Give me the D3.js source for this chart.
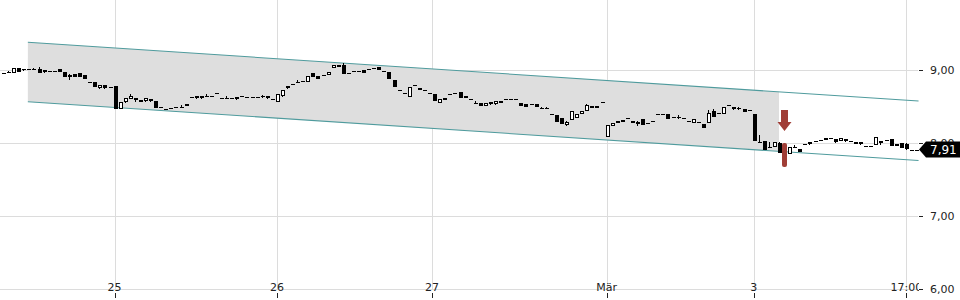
<!DOCTYPE html>
<html>
<head>
<meta charset="utf-8">
<script src="https://cdn.jsdelivr.net/npm/d3@7"></script>
<style>
  body { margin: 0; background: #fff; }
  svg text { font-family: "DejaVu Sans", sans-serif; font-size: 11px; }
</style>
</head>
<body>
<svg id="chart"></svg>
<script>
// candles: [open, high, low, close]
const ohlc = [
  [8.96,8.96,8.96,8.96],[8.97,8.98,8.97,8.97],[8.97,9.03,8.97,9.03],[9.03,9.03,8.99,8.99],[9.01,9.02,9.00,9.01],
  [9.01,9.01,9.01,9.01],[9.01,9.03,9.01,9.01],[9.02,9.04,8.97,8.98],[9.00,9.00,8.97,8.98],[8.99,8.99,8.99,8.99],
  [8.99,8.99,8.99,8.99],[9.01,9.01,8.98,8.98],[8.97,8.97,8.92,8.92],[8.93,8.94,8.87,8.92],[8.95,8.95,8.92,8.92],
  [8.96,8.96,8.92,8.92],[8.93,8.93,8.89,8.89],[8.84,8.84,8.84,8.84],[8.84,8.84,8.78,8.78],[8.76,8.80,8.75,8.79],
  [8.79,8.79,8.76,8.76],[8.77,8.77,8.77,8.77],[8.78,8.78,8.48,8.48],[8.48,8.56,8.48,8.56],[8.57,8.62,8.56,8.61],
  [8.62,8.67,8.61,8.65],[8.61,8.61,8.58,8.59],[8.59,8.59,8.58,8.58],[8.58,8.62,8.58,8.61],[8.60,8.60,8.58,8.58],
  [8.57,8.57,8.49,8.49],[8.49,8.49,8.49,8.49],[8.47,8.47,8.47,8.47],[8.48,8.48,8.48,8.48],[8.49,8.49,8.49,8.49],
  [8.50,8.52,8.50,8.50],[8.54,8.54,8.52,8.52],[8.63,8.63,8.63,8.63],[8.64,8.64,8.62,8.62],[8.64,8.64,8.62,8.62],
  [8.65,8.67,8.65,8.65],[8.65,8.65,8.65,8.65],[8.68,8.68,8.68,8.68],[8.62,8.62,8.62,8.62],[8.62,8.64,8.62,8.62],
  [8.62,8.62,8.62,8.62],[8.63,8.63,8.60,8.61],[8.65,8.65,8.65,8.65],[8.63,8.63,8.63,8.63],[8.63,8.63,8.63,8.63],
  [8.63,8.63,8.63,8.63],[8.64,8.66,8.63,8.64],[8.64,8.64,8.62,8.62],[8.60,8.60,8.60,8.60],[8.57,8.67,8.57,8.67],
  [8.65,8.73,8.64,8.72],[8.76,8.78,8.76,8.78],[8.81,8.81,8.81,8.81],[8.84,8.86,8.84,8.84],[8.85,8.85,8.85,8.85],
  [8.85,8.92,8.85,8.92],[8.96,8.96,8.92,8.92],[8.92,8.92,8.89,8.89],[8.93,8.93,8.93,8.93],[8.94,8.97,8.94,8.97],
  [9.04,9.07,9.04,9.07],[9.07,9.07,9.06,9.06],[9.07,9.10,8.96,8.96],[8.96,8.96,8.96,8.96],[8.99,8.99,8.99,8.99],
  [8.99,8.99,8.99,8.99],[9.00,9.00,8.97,8.97],[9.01,9.01,9.01,9.01],[9.03,9.03,9.03,9.03],[9.04,9.04,9.01,9.01],
  [8.99,8.99,8.99,8.99],[8.97,8.97,8.89,8.89],[8.86,8.86,8.78,8.78],[8.73,8.73,8.73,8.73],[8.69,8.69,8.69,8.69],
  [8.64,8.77,8.64,8.77],[8.79,8.79,8.79,8.79],[8.76,8.76,8.74,8.74],[8.73,8.73,8.73,8.73],[8.69,8.69,8.69,8.69],
  [8.67,8.67,8.59,8.59],[8.56,8.60,8.56,8.60],[8.62,8.62,8.60,8.60],[8.67,8.67,8.67,8.67],[8.69,8.69,8.69,8.69],
  [8.70,8.70,8.63,8.63],[8.65,8.65,8.63,8.63],[8.60,8.60,8.60,8.60],[8.55,8.57,8.55,8.55],[8.55,8.55,8.52,8.52],
  [8.52,8.55,8.52,8.55],[8.54,8.56,8.54,8.56],[8.54,8.57,8.54,8.57],[8.57,8.57,8.56,8.56],[8.60,8.60,8.60,8.60],
  [8.60,8.60,8.60,8.60],[8.60,8.60,8.60,8.60],[8.55,8.55,8.52,8.52],[8.54,8.54,8.51,8.51],[8.53,8.53,8.53,8.53],
  [8.54,8.54,8.51,8.51],[8.48,8.50,8.48,8.48],[8.48,8.50,8.48,8.48],[8.40,8.40,8.40,8.40],[8.38,8.38,8.30,8.30],
  [8.34,8.34,8.27,8.27],[8.26,8.30,8.24,8.29],[8.33,8.44,8.33,8.44],[8.36,8.40,8.36,8.40],[8.41,8.44,8.41,8.44],
  [8.45,8.54,8.45,8.52],[8.51,8.51,8.49,8.49],[8.51,8.51,8.49,8.49],[8.56,8.56,8.56,8.56],[8.10,8.25,8.10,8.25],
  [8.25,8.28,8.25,8.28],[8.30,8.30,8.29,8.29],[8.31,8.31,8.30,8.30],[8.34,8.34,8.34,8.34],[8.30,8.30,8.29,8.29],
  [8.27,8.30,8.25,8.29],[8.33,8.33,8.26,8.26],[8.27,8.27,8.27,8.27],[8.30,8.30,8.30,8.30],[8.40,8.40,8.40,8.40],
  [8.40,8.40,8.40,8.40],[8.40,8.40,8.34,8.34],[8.36,8.36,8.36,8.36],[8.36,8.38,8.34,8.36],[8.34,8.34,8.34,8.34],
  [8.30,8.30,8.30,8.30],[8.29,8.33,8.29,8.33],[8.29,8.29,8.29,8.29],[8.26,8.26,8.22,8.22],[8.29,8.45,8.29,8.41],
  [8.44,8.47,8.37,8.37],[8.41,8.41,8.41,8.41],[8.41,8.49,8.41,8.49],[8.52,8.52,8.52,8.52],[8.49,8.49,8.47,8.47],
  [8.48,8.50,8.46,8.48],[8.47,8.47,8.44,8.44],[8.45,8.45,8.45,8.45],[8.40,8.40,8.05,8.05],[8.02,8.11,8.02,8.02],
  [8.03,8.03,7.92,7.92],[7.95,8.01,7.95,7.95],[7.96,8.02,7.96,8.01],[8.00,8.01,7.88,7.88],[7.89,7.89,7.84,7.84],
  [7.86,7.94,7.86,7.94],[7.95,7.97,7.95,7.95],[7.92,7.92,7.89,7.89],[7.99,7.99,7.99,7.99],[7.99,8.01,7.99,8.01],
  [8.03,8.03,8.03,8.03],[8.04,8.04,8.04,8.04],[8.07,8.07,8.05,8.05],[8.07,8.07,8.07,8.07],[8.06,8.06,8.01,8.03],
  [8.04,8.07,8.04,8.07],[8.05,8.05,8.03,8.03],[8.03,8.03,8.03,8.03],[8.02,8.02,8.00,8.00],[8.01,8.01,7.99,7.99],
  [7.96,7.96,7.96,7.96],[7.96,7.96,7.96,7.96],[7.99,8.08,7.99,8.08],[8.03,8.03,7.99,8.02],[8.04,8.04,8.04,8.04],
  [8.05,8.05,7.97,7.97],[7.99,7.99,7.97,7.97],[8.00,8.00,7.94,7.95],[7.99,8.00,7.92,7.93],[7.91,7.91,7.91,7.91],
  [7.91,7.91,7.91,7.91]
];

// x axis ticks (candle index) and labels
const dayTicks = [22, 54, 84.6, 119, 148, 178.1];
const dayLabels = ['25', '26', '27', 'Mär', '3', '17:00'];
const priceTicks = [6, 7, 8, 9];

// trend channel: start/end candle index, upper and lower values
const channelIdx = [4.9, 180.5];
const channelUpper = [9.38, 8.575];
const channelLower = [8.565, 7.76];
const channelFillEnd = 153;

const lastPrice = 7.91;
const signalIdx = 154;
const signalArrowTip = 8.165;
const signalBar = [8.0, 7.67];

(function(){
  let width = 960, height = 300, plotRight = 918;

  let svg = d3.select('#chart').attr('width', width).attr('height', height);

  let x = d3.scaleLinear().domain([0, ohlc.length - 1]).range([3, 916]);
  let y = d3.scaleLinear().domain([6, 9]).range([289, 70]);
  let fmt = v => d3.format('.2f')(v).replace('.', ',');

  // grid
  let grid = svg.append('g').attr('stroke', '#dcdcdc').attr('shape-rendering', 'crispEdges');
  grid.selectAll('line.h').data(priceTicks).enter().append('line')
      .attr('x1', 0).attr('x2', plotRight)
      .attr('y1', d => Math.round(y(d)) + 0.5).attr('y2', d => Math.round(y(d)) + 0.5);
  grid.selectAll('line.v').data(dayTicks).enter().append('line')
      .attr('x1', d => Math.round(x(d)) + 0.5).attr('x2', d => Math.round(x(d)) + 0.5)
      .attr('y1', 0).attr('y2', 289);

  // channel
  let lerp = (arr, i) => arr[0] + (arr[1] - arr[0]) * (i - channelIdx[0]) / (channelIdx[1] - channelIdx[0]);
  let fillPts = [
    [x(channelIdx[0]), y(channelUpper[0])],
    [x(channelFillEnd), y(lerp(channelUpper, channelFillEnd))],
    [x(channelFillEnd), y(lerp(channelLower, channelFillEnd))],
    [x(channelIdx[0]), y(channelLower[0])]
  ];
  svg.append('polygon')
      .attr('points', fillPts.map(p => p.join(',')).join(' '))
      .attr('fill', '#dedede');

  [channelUpper, channelLower].forEach(arr => {
    svg.append('line')
        .attr('x1', x(channelIdx[0])).attr('y1', y(arr[0]))
        .attr('x2', x(channelIdx[1])).attr('y2', y(arr[1]))
        .attr('stroke', '#4f9b9d').attr('stroke-width', 1.1);
  });

  // candles
  let candle = svg.append('g').attr('shape-rendering', 'crispEdges')
    .selectAll('g').data(ohlc).enter().append('g');

  candle.append('line')
      .attr('x1', (d, i) => Math.round(x(i)) + 0.5).attr('x2', (d, i) => Math.round(x(i)) + 0.5)
      .attr('y1', d => Math.round(y(d[1]))).attr('y2', d => Math.round(y(d[2])) + 1)
      .attr('stroke', '#000');

  candle.append('rect')
      .attr('x', (d, i) => Math.round(x(i)) - 1.5)
      .attr('width', 4)
      .attr('y', d => Math.round(y(Math.max(d[0], d[3]))) + (d[0] === d[3] ? 0 : 0.5))
      .attr('height', d => d[0] === d[3] ? 1 : Math.max(1, Math.round(Math.abs(y(d[0]) - y(d[3])))))
      .attr('fill', d => d[3] > d[0] ? '#fff' : '#000')
      .attr('stroke', d => d[0] === d[3] ? 'none' : '#000')
      .attr('stroke-width', 1)
      .each(function(d){
        if(d[0] !== d[3]) d3.select(this).attr('x', +d3.select(this).attr('x') + 0.5).attr('width', 3);
      });

  // signal markers
  let sx = Math.round(x(signalIdx)) + 0.5, tip = y(signalArrowTip);
  svg.append('path')
      .attr('d', `M${sx - 3.5},${tip - 21} L${sx + 3.5},${tip - 21} L${sx + 3.5},${tip - 9} L${sx + 7},${tip - 9} L${sx},${tip} L${sx - 7},${tip - 9} L${sx - 3.5},${tip - 9} Z`)
      .attr('fill', '#a03e37');
  svg.append('rect')
      .attr('x', sx - 2.5).attr('width', 5)
      .attr('y', y(signalBar[0])).attr('height', y(signalBar[1]) - y(signalBar[0]))
      .attr('rx', 2).attr('fill', '#a03e37');

  // right axis
  let ra = svg.append('g');
  ra.selectAll('line').data(priceTicks).enter().append('line')
      .attr('x1', 919).attr('x2', 923)
      .attr('y1', d => Math.round(y(d)) + 0.5).attr('y2', d => Math.round(y(d)) + 0.5)
      .attr('stroke', '#222').attr('shape-rendering', 'crispEdges');
  ra.selectAll('text').data(priceTicks).enter().append('text')
      .attr('x', 930).attr('y', d => y(d)).attr('dy', '0.35em')
      .attr('fill', '#222')
      .text(d => fmt(d));

  // bottom axis
  svg.append('clipPath').attr('id', 'xclip')
    .append('rect').attr('x', 0).attr('y', 0).attr('width', plotRight + 1).attr('height', height);
  let ba = svg.append('g');
  ba.selectAll('line').data(dayTicks).enter().append('line')
      .attr('x1', d => Math.round(x(d)) + 0.5).attr('x2', d => Math.round(x(d)) + 0.5)
      .attr('y1', 293).attr('y2', 298)
      .attr('stroke', '#222').attr('shape-rendering', 'crispEdges');
  ba.append('g').attr('clip-path', 'url(#xclip)')
    .selectAll('text').data(dayTicks).enter().append('text')
      .attr('x', d => x(d)).attr('y', 291)
      .attr('text-anchor', 'middle').attr('fill', '#222')
      .text((d, i) => dayLabels[i]);

  // last price label
  let ly = y(lastPrice);
  svg.append('path')
      .attr('d', `M919,${ly} L926,${ly - 8} L960,${ly - 8} L960,${ly + 8} L926,${ly + 8} Z`)
      .attr('fill', '#000');
  svg.append('text')
      .attr('x', 930).attr('y', ly).attr('dy', '0.35em')
      .attr('fill', '#fff').style('font-size', '12px')
      .text(fmt(lastPrice));
})();
</script>
</body>
</html>
